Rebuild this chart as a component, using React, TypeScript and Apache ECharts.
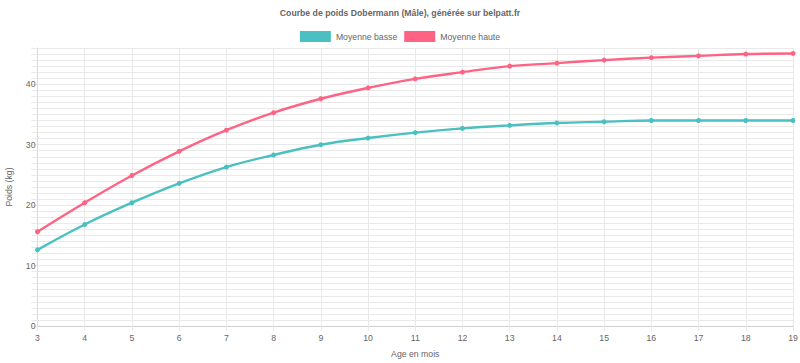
import React, { useEffect, useRef } from "react";
import * as echarts from "echarts";

const months = ["3", "4", "5", "6", "7", "8", "9", "10", "11", "12", "13", "14", "15", "16", "17", "18", "19"];
const moyenneBasse = [12.6, 16.8, 20.4, 23.6, 26.3, 28.3, 30.0, 31.1, 32.0, 32.7, 33.2, 33.6, 33.8, 34.0, 34.0, 34.0, 34.0];
const moyenneHaute = [15.6, 20.4, 24.9, 28.9, 32.4, 35.3, 37.6, 39.4, 40.9, 42.0, 43.0, 43.5, 44.0, 44.4, 44.7, 45.0, 45.1];

const FONT = "'Liberation Sans', Arial, Helvetica, sans-serif";
const TXT = "#666";
const GRID = "#e9e9e9";

export default function App() {
  const ref = useRef<HTMLDivElement>(null);
  useEffect(() => {
    document.body.style.margin = "0";
    if (!ref.current) return;
    const chart = echarts.init(ref.current, null, { renderer: "svg" });
    chart.setOption({
      animation: false,
      textStyle: { fontFamily: FONT },
      title: {
        text: "Courbe de poids Dobermann (Mâle), générée sur belpatt.fr",
        left: "center",
        top: 8,
        padding: 0,
        textStyle: { fontSize: 8.7, fontWeight: "bold", color: TXT, fontFamily: FONT },
      },
      legend: {
        top: 31,
        left: "center",
        padding: 0,
        itemWidth: 31,
        itemHeight: 11,
        itemGap: 7,
        icon: "rect",
        textStyle: { fontSize: 8.7, color: TXT, fontFamily: FONT },
        data: ["Moyenne basse", "Moyenne haute"],
      },
      grid: { left: 37.5, right: 7, top: 48, bottom: 37, containLabel: false, outerBoundsMode: "none" },
      xAxis: {
        type: "category",
        data: months,
        boundaryGap: false,
        name: "Age en mois",
        nameLocation: "middle",
        nameGap: 23,
        nameTextStyle: { fontSize: 8.7, color: TXT, fontFamily: FONT },
        axisLine: { show: true, lineStyle: { color: "#cfcfcf", width: 1 } },
        axisTick: { show: true, length: 5, lineStyle: { color: GRID } },
        axisLabel: { color: TXT, fontSize: 8.7, margin: 7, fontFamily: FONT },
        splitLine: { show: true, lineStyle: { color: GRID, width: 1 } },
      },
      yAxis: {
        type: "value",
        min: 0,
        max: 46,
        interval: 1,
        name: "Poids (kg)",
        nameLocation: "middle",
        nameGap: 24,
        nameTextStyle: { fontSize: 8.7, color: TXT, fontFamily: FONT },
        axisLine: { show: true, lineStyle: { color: "#dadada", width: 1 } },
        axisTick: { show: true, length: 6, lineStyle: { color: GRID } },
        axisLabel: {
          color: TXT,
          fontSize: 8.7,
          margin: 2,
          fontFamily: FONT,
          formatter: (v: number) => (v % 10 === 0 ? String(v) : ""),
        },
        splitLine: { show: true, lineStyle: { color: GRID, width: 1 } },
      },
      series: [
        {
          name: "Moyenne basse",
          type: "line",
          data: moyenneBasse,
          smooth: 0.4,
          symbol: "circle",
          symbolSize: 5,
          itemStyle: { color: "#4BC0C0" },
          lineStyle: { color: "#4BC0C0", width: 2.4 },
        },
        {
          name: "Moyenne haute",
          type: "line",
          data: moyenneHaute,
          smooth: 0.4,
          symbol: "circle",
          symbolSize: 5,
          itemStyle: { color: "#FF6384" },
          lineStyle: { color: "#FF6384", width: 2.4 },
        },
      ],
    });
    return () => chart.dispose();
  }, []);
  return <div ref={ref} style={{ width: 800, height: 363 }} />;
}
